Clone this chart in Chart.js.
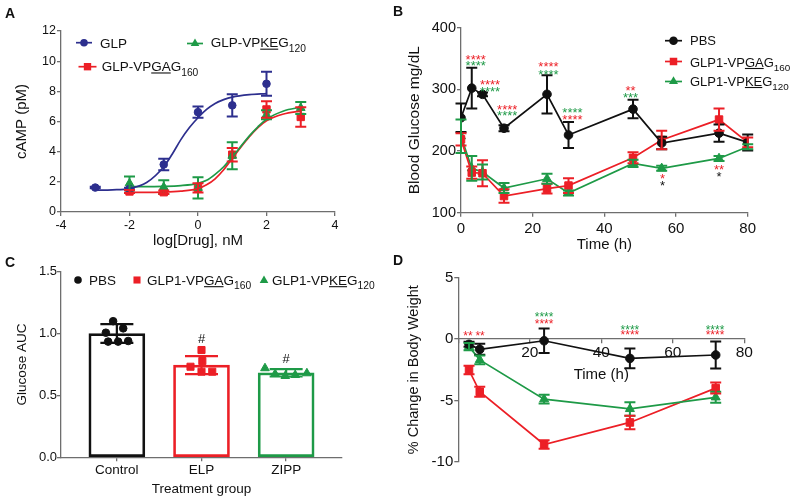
<!DOCTYPE html>
<html><head><meta charset="utf-8">
<script src="https://cdn.jsdelivr.net/npm/chart.js@4.4.1/dist/chart.umd.min.js"></script>
<style>
html,body{margin:0;padding:0;background:#fff}
#wrap{position:relative;width:800px;height:502px;overflow:hidden;background:#fff;font-family:"Liberation Sans",Arial,Helvetica,sans-serif}
#wrap canvas{position:absolute}
.pl{position:absolute;font-weight:bold;font-size:14px;line-height:14px;color:#111}
</style></head>
<body><div id="wrap">
<canvas id="cA" width="400" height="250" style="left:0px;top:0px"></canvas>
<canvas id="cB" width="400" height="254" style="left:400px;top:0px"></canvas>
<canvas id="cC" width="400" height="252" style="left:0px;top:250px"></canvas>
<canvas id="cD" width="400" height="252" style="left:400px;top:250px"></canvas>
<div class="pl" style="left:5px;top:6px">A</div>
<div class="pl" style="left:393px;top:4px">B</div>
<div class="pl" style="left:5px;top:255px">C</div>
<div class="pl" style="left:393px;top:253px">D</div>
</div>
<script>
// ---------------- DATA ----------------
// Panel A: cAMP dose response
const aDoseGLP = [-3, -2, -1, 0, 1, 2];
const aGLP     = [1.62, 1.53, 3.15, 6.62, 7.07, 8.5];
const aGLPErr  = [0.05, 0.08, 0.38, 0.37, 0.74, 0.8];
const aDoseGAG = [-2, -1, 0, 1, 2, 3];
const aGAG     = [1.36, 1.31, 1.6, 3.8, 6.8, 6.3];
const aGAGErr  = [0.1, 0.12, 0.3, 0.45, 0.55, 0.65];
const aDoseKEG = [-2, -1, 0, 1, 2, 3];
const aKEG     = [1.9, 1.65, 1.6, 3.73, 6.45, 6.9];
const aKEGErr  = [0.45, 0.45, 0.7, 0.89, 0.3, 0.4];
// fitted curves
const aFitGLPx = [-3, -2.5, -2, -1.5, -1, -0.75, -0.5, -0.25, 0, 0.25, 0.5, 0.75, 1, 1.5, 2];
const aFitGLPy = [1.45, 1.47, 1.55, 1.95, 3.0, 3.85, 4.8, 5.6, 6.25, 6.8, 7.2, 7.45, 7.62, 7.78, 7.85];
const aFitGAGx = [-2, -1, -0.5, 0, 0.25, 0.5, 0.75, 1, 1.25, 1.5, 1.75, 2, 2.5, 3];
const aFitGAGy = [1.3, 1.32, 1.38, 1.55, 1.8, 2.2, 2.8, 3.55, 4.3, 5.0, 5.6, 6.05, 6.5, 6.7];
const aFitKEGx = [-2, -1, -0.5, 0, 0.25, 0.5, 0.75, 1, 1.25, 1.5, 1.75, 2, 2.5, 3];
const aFitKEGy = [1.68, 1.7, 1.75, 1.9, 2.1, 2.5, 3.0, 3.65, 4.35, 5.05, 5.65, 6.15, 6.7, 6.95];

// Panel B: blood glucose vs time
const bTime   = [0, 3, 6, 12, 24, 30, 48, 56, 72, 80];
const bPBS    = [254, 302, 292, 237, 292, 226, 268, 213, 229, 214];
const bPBSErr = [23, 33, 3, 5, 31, 21, 15, 10, 14, 13];
const bGAG    = [219, 165, 164, 127, 139, 144, 189, 218, 251, 214];
const bGAGErr = [10, 10, 21, 11, 8, 12, 9, 15, 18, 8];
const bKEG    = [224, 172, 166, 140, 155, 132, 180, 172, 188, 207];
const bKEGErr = [27, 20, 12, 8, 8, 4, 6, 4, 4, 4];
// significance marks [time, level, text, colour]
const bMarks = [
  [4.1, 354, '****', 'R'], [4.1, 344, '****', 'G'],
  [8.1, 313.6, '****', 'R'], [8.1, 302, '****', 'G'],
  [12.9, 273, '****', 'R'], [12.9, 263, '****', 'G'],
  [24.4, 342, '****', 'R'], [24.4, 330, '****', 'G'],
  [31.1, 268, '****', 'G'], [31.1, 257, '****', 'R'],
  [47.3, 303, '**', 'R'], [47.3, 292.5, '***', 'G'],
  [56.2, 161, '*', 'R'], [56.2, 149, '*', 'K'],
  [72, 176, '**', 'R'], [72, 164, '*', 'K']
];

// Panel C: glucose AUC
const cGroups = ['Control', 'ELP', 'ZIPP'];
const cMeans  = [1.0, 0.745, 0.683];
const cSD     = [0.076, 0.073, 0.03];
const cPBSx   = [0.956, 1.075, 0.87, 0.897, 1.015, 1.134];
const cPBSy   = [1.10, 1.042, 1.007, 0.935, 0.935, 0.94];
const cGAGx   = [2.0, 2.01, 1.87, 2.0, 2.127];
const cGAGy   = [0.867, 0.778, 0.732, 0.692, 0.692];
const cKEGx   = [2.75, 2.87, 2.99, 3.107, 3.245];
const cKEGy   = [0.72, 0.673, 0.657, 0.665, 0.679];
const cMarks  = [[2, 0.96, '#', 'K'], [3, 0.797, '#', 'K']];

// Panel D: body weight change
const dTime   = [3, 6, 24, 48, 72];
const dPBS    = [-0.43, -0.84, -0.14, -1.58, -1.3];
const dPBSErr = [0.2, 0.45, 1.0, 0.8, 1.1];
const dGAG    = [-2.53, -4.3, -8.6, -6.8, -4.0];
const dGAGErr = [0.35, 0.4, 0.35, 0.55, 0.45];
const dKEG    = [-0.62, -1.7, -4.9, -5.7, -4.75];
const dKEGErr = [0.3, 0.35, 0.35, 0.55, 0.45];
const dMarks = [
  [2.7, 0.51, '**', 'R'], [6.1, 0.49, '**', 'R'],
  [24, 2.04, '****', 'G'], [24, 1.49, '****', 'R'],
  [48, 1.0, '****', 'G'], [48, 0.57, '****', 'R'],
  [71.8, 1.0, '****', 'G'], [71.8, 0.57, '****', 'R']
];

// ---------------- STYLE / HELPERS ----------------
const FONT = '"Liberation Sans", Arial, Helvetica, sans-serif';
Chart.defaults.font.family = FONT;
Chart.defaults.color = '#111';
Chart.defaults.animation = false;
Chart.defaults.plugins.legend.display = false;
Chart.defaults.plugins.tooltip.enabled = false;
Chart.defaults.events = [];

const RED = '#EC1F26', GREEN = '#1E9A47', NAVY = '#2D2F8E', BLACK = '#111111', AX = '#6e6e6e';
const COL = {R: RED, G: GREEN, K: BLACK};

function pts(xs, ys) { return xs.map((x, i) => ({x: x, y: ys[i]})); }

function drawMarker(ctx, style, x, y, r, color) {
  ctx.save(); ctx.fillStyle = color; ctx.beginPath();
  if (style === 'circle') ctx.arc(x, y, r, 0, Math.PI * 2);
  else if (style === 'rect') { const h = r * Math.SQRT1_2; ctx.rect(x - h, y - h, 2 * h, 2 * h); }
  else { ctx.moveTo(x, y - r); ctx.lineTo(x + r * 0.866, y + r * 0.5); ctx.lineTo(x - r * 0.866, y + r * 0.5); ctx.closePath(); }
  ctx.fill(); ctx.restore();
}

function drawRuns(ctx, x, y, runs, size) {
  let cx = x;
  runs.forEach(r => {
    const fs = r.sub ? size * 0.76 : size;
    ctx.font = fs + 'px ' + FONT;
    ctx.textBaseline = 'alphabetic'; ctx.textAlign = 'left'; ctx.fillStyle = '#111';
    const base = r.sub ? (y + size * 0.42 + fs * 0.358) : (y + size * 0.358);
    ctx.fillText(r.t, cx, base);
    const w = ctx.measureText(r.t).width;
    if (r.u) ctx.fillRect(cx, base + 1.3, w, 1.1);
    cx += w;
  });
}

function legendPlugin(items, size) {
  return {id: 'richLegend', afterDraw(chart) {
    const ctx = chart.ctx;
    items.forEach(it => {
      if (it.line) {
        ctx.save(); ctx.strokeStyle = it.color; ctx.lineWidth = 1.7; ctx.beginPath();
        ctx.moveTo(it.mx - it.line, it.my); ctx.lineTo(it.mx + it.line, it.my); ctx.stroke(); ctx.restore();
      }
      drawMarker(ctx, it.marker, it.mx, it.my, it.r, it.color);
      ctx.save(); drawRuns(ctx, it.tx, it.ty, it.runs, size); ctx.restore();
    });
  }};
}

function notesPlugin(items, size) {
  return {id: 'notes', afterDatasetsDraw(chart) {
    const ctx = chart.ctx, xs = chart.scales.x, ys = chart.scales.y;
    ctx.save(); ctx.font = size + 'px ' + FONT; ctx.textAlign = 'center'; ctx.textBaseline = 'alphabetic';
    items.forEach(n => {
      const px = xs.getPixelForValue(n[0]), py = ys.getPixelForValue(n[1]);
      ctx.fillStyle = COL[n[3]];
      const off = n[2] === '#' ? 0.35 : 0.6;
      ctx.fillText(n[2], px, py + off * size);
    });
    ctx.restore();
  }};
}

const errPlugin = {id: 'errbars', afterDatasetsDraw(chart) {
  const ctx = chart.ctx;
  chart.data.datasets.forEach((ds, i) => {
    if (!ds.errors) return;
    const meta = chart.getDatasetMeta(i), ys = chart.scales.y;
    meta.data.forEach((el, j) => {
      const e = ds.errors[j]; if (e == null) return;
      const d = ds.data[j]; const v = (typeof d === 'object') ? d.y : d;
      const yt = ys.getPixelForValue(v + e), yb = ys.getPixelForValue(v - e), x = el.x, c = ds.capHalf || 5.5;
      ctx.save();
      ctx.strokeStyle = Array.isArray(ds.errColor) ? ds.errColor[j] : (ds.errColor || ds.borderColor);
      ctx.lineWidth = ds.errWidth || 2;
      ctx.beginPath();
      ctx.moveTo(x, yt); ctx.lineTo(x, yb);
      ctx.moveTo(x - c, yt); ctx.lineTo(x + c, yt);
      ctx.moveTo(x - c, yb); ctx.lineTo(x + c, yb);
      ctx.stroke(); ctx.restore();
    });
  });
}};

function axis(o) {
  const a = {
    type: 'linear', position: o.position, min: o.min, max: o.max, offset: false,
    grid: {display: true, drawOnChartArea: false, drawTicks: true, tickLength: 4, color: AX, lineWidth: 1.3, offset: false},
    border: {display: true, color: AX, width: 1.3},
    ticks: {stepSize: o.step, font: {size: o.fs}, color: '#111', padding: o.pad, maxRotation: 0, autoSkip: false},
    title: {display: true, text: o.title, font: {size: o.tfs}, color: '#111', padding: o.tpad},
    afterFit: o.fit
  };
  if (o.cb) a.ticks.callback = o.cb;
  if (o.abt) a.afterBuildTicks = o.abt;
  return a;
}

function lineDs(data, color, style, r, errs, extra) {
  return Object.assign({
    data: data, showLine: true, borderColor: color, borderWidth: 1.7, backgroundColor: color,
    pointStyle: style, pointRadius: r, pointBackgroundColor: color, pointBorderColor: color, pointBorderWidth: 1,
    tension: 0, fill: false, errors: errs, errColor: color, capHalf: 5.5, errWidth: 2
  }, extra || {});
}

// ---------------- PANEL A ----------------
new Chart(document.getElementById('cA'), {
  type: 'scatter',
  data: {datasets: [
    {data: pts(aFitGLPx, aFitGLPy), showLine: true, borderColor: NAVY, borderWidth: 1.7, pointRadius: 0, cubicInterpolationMode: 'monotone'},
    {data: pts(aFitKEGx, aFitKEGy), showLine: true, borderColor: GREEN, borderWidth: 1.7, pointRadius: 0, cubicInterpolationMode: 'monotone'},
    {data: pts(aFitGAGx, aFitGAGy), showLine: true, borderColor: RED, borderWidth: 1.7, pointRadius: 0, cubicInterpolationMode: 'monotone'},
    lineDs(pts(aDoseGLP, aGLP), NAVY, 'circle', 3.8, aGLPErr, {showLine: false}),
    lineDs(pts(aDoseKEG, aKEG), GREEN, 'triangle', 5, aKEGErr, {showLine: false}),
    lineDs(pts(aDoseGAG, aGAG), RED, 'rect', 5.2, aGAGErr, {showLine: false})
  ]},
  options: {
    responsive: false,
    layout: {padding: {top: 31, right: 65, left: 0, bottom: 0}},
    scales: {
      x: axis({position: 'bottom', min: -4, max: 4, step: 2, fs: 12.5, pad: 2, title: 'log[Drug], nM', tfs: 15, tpad: {top: 0, bottom: 0}, fit: s => { s.height = 38; }}),
      y: axis({position: 'left', min: 0, max: 12, step: 2, fs: 12.5, pad: 1, title: 'cAMP (pM)', tfs: 15, tpad: {top: 12.5, bottom: 0}, fit: s => { s.width = 61; }})
    }
  },
  plugins: [errPlugin, legendPlugin([
    {mx: 84, my: 42.7, line: 8, marker: 'circle', r: 3.8, color: NAVY, tx: 100, ty: 42.7, runs: [{t: 'GLP'}]},
    {mx: 195, my: 43.5, line: 8, marker: 'triangle', r: 5, color: GREEN, tx: 210.7, ty: 42.5,
      runs: [{t: 'GLP-VP'}, {t: 'KE', u: 1}, {t: 'G'}, {t: '120', sub: 1}]},
    {mx: 87.5, my: 66.7, line: 9, marker: 'rect', r: 5.2, color: RED, tx: 101.7, ty: 66.3,
      runs: [{t: 'GLP-VP'}, {t: 'GA', u: 1}, {t: 'G'}, {t: '160', sub: 1}]}
  ], 13.5)]
});

// ---------------- PANEL B ----------------
new Chart(document.getElementById('cB'), {
  type: 'scatter',
  data: {datasets: [
    lineDs(pts(bTime, bPBS), BLACK, 'circle', 4.3, bPBSErr),
    lineDs(pts(bTime, bGAG), RED, 'rect', 5.3, bGAGErr),
    lineDs(pts(bTime, bKEG), GREEN, 'triangle', 5.2, bKEGErr)
  ]},
  options: {
    responsive: false,
    layout: {padding: {top: 27.7, right: 52.3, left: 0, bottom: 0}},
    scales: {
      x: axis({position: 'bottom', min: 0, max: 80, step: 20, fs: 15, pad: 3, title: 'Time (h)', tfs: 15, tpad: {top: 0, bottom: 0}, fit: s => { s.height = 41.3; }}),
      y: axis({position: 'left', min: 100, max: 400, step: 100, fs: 14.5, pad: 1, title: 'Blood Glucose mg/dL', tfs: 15.5, tpad: {top: 5, bottom: 0}, fit: s => { s.width = 61; }})
    }
  },
  plugins: [errPlugin, notesPlugin(bMarks, 13), legendPlugin([
    {mx: 273.5, my: 40.7, line: 8.5, marker: 'circle', r: 4.3, color: BLACK, tx: 290, ty: 40.7, runs: [{t: 'PBS'}]},
    {mx: 273.5, my: 61.5, line: 8.5, marker: 'rect', r: 5.3, color: RED, tx: 290, ty: 62,
      runs: [{t: 'GLP1-VP'}, {t: 'GA', u: 1}, {t: 'G'}, {t: '160', sub: 1}]},
    {mx: 273.5, my: 81.5, line: 8.5, marker: 'triangle', r: 5.2, color: GREEN, tx: 290, ty: 81,
      runs: [{t: 'GLP1-VP'}, {t: 'KE', u: 1}, {t: 'G'}, {t: '120', sub: 1}]}
  ], 13)]
});

// ---------------- PANEL C ----------------
new Chart(document.getElementById('cC'), {
  type: 'scatter',
  data: {datasets: [
    {type: 'scatter', data: pts(cPBSx, cPBSy), pointStyle: 'circle', pointRadius: 3.8, backgroundColor: BLACK, borderColor: BLACK, order: 1},
    {type: 'scatter', data: pts(cGAGx, cGAGy), pointStyle: 'rect', pointRadius: 5, backgroundColor: RED, borderColor: RED, order: 1},
    {type: 'scatter', data: pts(cKEGx, cKEGy), pointStyle: 'triangle', pointRadius: 5, backgroundColor: GREEN, borderColor: GREEN, order: 1},
    {type: 'bar', data: pts([1, 2, 3], cMeans), backgroundColor: '#ffffff', borderColor: [BLACK, RED, GREEN],
      borderWidth: 2.7, borderSkipped: false, barThickness: 56, order: 5,
      errors: cSD, errColor: [BLACK, RED, GREEN], capHalf: 16.5, errWidth: 2.2}
  ]},
  options: {
    responsive: false,
    layout: {padding: {top: 21.7, right: 58, left: 0, bottom: 0}},
    scales: {
      x: axis({position: 'bottom', min: 0.34, max: 3.66, fs: 13.5, pad: 1, title: 'Treatment group', tfs: 13.5, tpad: {top: 0, bottom: 4.9},
        fit: s => { s.height = 44.7; }, abt: s => { s.ticks = [1, 2, 3].map(v => ({value: v})); }, cb: v => cGroups[Math.round(v) - 1]}),
      y: axis({position: 'left', min: 0, max: 1.5, step: 0.5, fs: 13, pad: 0, title: 'Glucose AUC', tfs: 13.5, tpad: {top: 14, bottom: 0},
        fit: s => { s.width = 61; }, cb: v => v.toFixed(1)})
    }
  },
  plugins: [errPlugin, notesPlugin(cMarks, 13), legendPlugin([
    {mx: 78, my: 30, marker: 'circle', r: 3.8, color: BLACK, tx: 89, ty: 30, runs: [{t: 'PBS'}]},
    {mx: 137, my: 30, marker: 'rect', r: 5, color: RED, tx: 147, ty: 30,
      runs: [{t: 'GLP1-VP'}, {t: 'GA', u: 1}, {t: 'G'}, {t: '160', sub: 1}]},
    {mx: 264, my: 30.5, marker: 'triangle', r: 5, color: GREEN, tx: 272, ty: 30,
      runs: [{t: 'GLP1-VP'}, {t: 'KE', u: 1}, {t: 'G'}, {t: '120', sub: 1}]}
  ], 13.5)]
});

// ---------------- PANEL D ----------------
new Chart(document.getElementById('cD'), {
  type: 'scatter',
  data: {datasets: [
    lineDs(pts(dTime, dPBS), BLACK, 'circle', 4.3, dPBSErr),
    lineDs(pts(dTime, dKEG), GREEN, 'triangle', 5.2, dKEGErr),
    lineDs(pts(dTime, dGAG), RED, 'rect', 5.3, dGAGErr)
  ]},
  options: {
    responsive: false,
    layout: {padding: {top: 27.7, right: 55.7, left: 0, bottom: 40.3}},
    scales: {
      x: axis({position: {y: 0}, min: 0, max: 80, step: 20, fs: 15.5, pad: 0, title: 'Time (h)', tfs: 15, tpad: {top: 0, bottom: 0},
        fit: s => { s.height = 45; }, cb: v => (v === 0 ? '' : String(v))}),
      y: axis({position: 'left', min: -10, max: 5, step: 5, fs: 15, pad: 1, title: '% Change in Body Weight', tfs: 14.5, tpad: {top: 5.3, bottom: 0},
        fit: s => { s.width = 58.3; }})
    }
  },
  plugins: [errPlugin, notesPlugin(dMarks, 12)]
});
</script>
</body></html>
